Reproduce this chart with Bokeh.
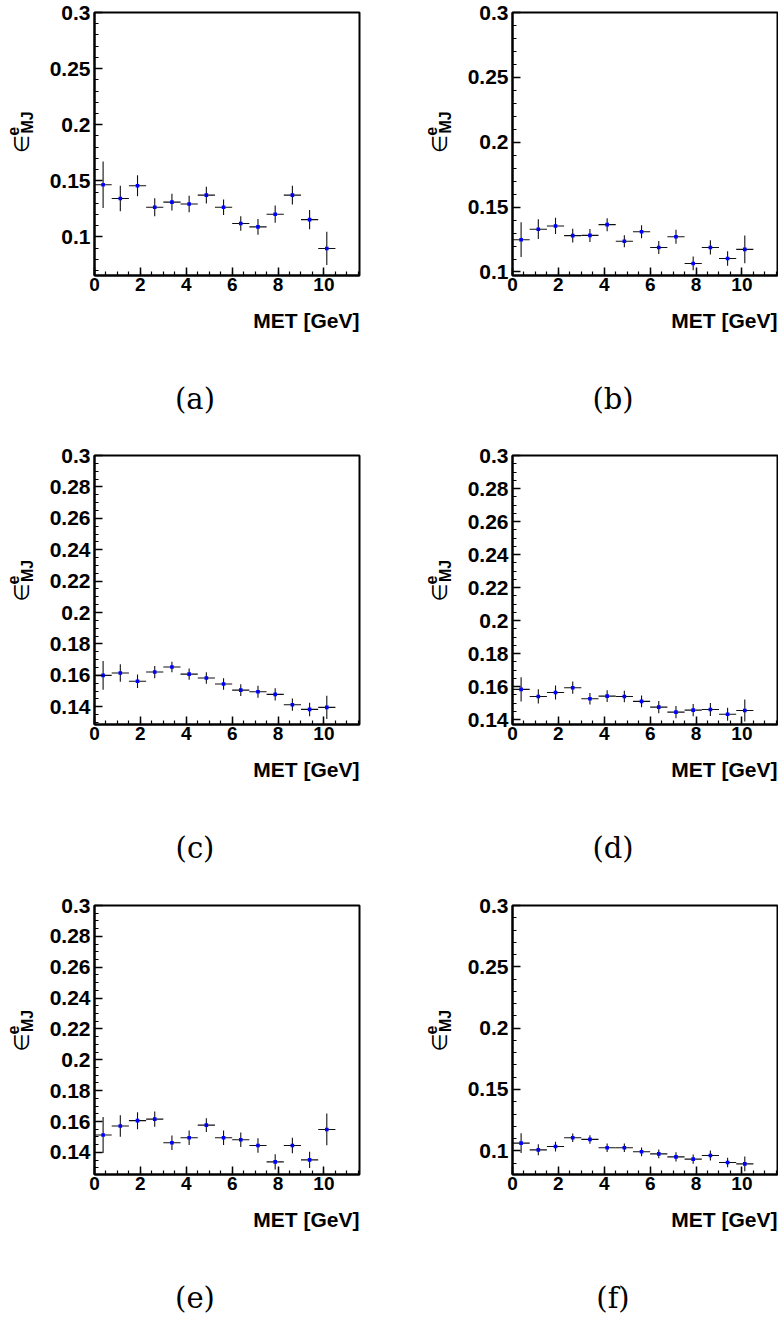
import numpy as np
from bokeh.plotting import figure
from bokeh.models import (Range1d, SingleIntervalTicker, CustomJSTickFormatter,
                          Label, ColumnDataSource)
from bokeh.layouts import column, row
from bokeh.embed import file_html
from bokeh.resources import INLINE

# ---------------- data ----------------
bin_width = 0.75
met_centers = [0.375, 1.125, 1.875, 2.625, 3.375, 4.125, 4.875,
               5.625, 6.375, 7.125, 7.875, 8.625, 9.375, 10.125]
x_range_max = 11.55

eff_a = [0.1465, 0.1343, 0.1456, 0.1265, 0.1311, 0.1294, 0.1373,
         0.1265, 0.1120, 0.1090, 0.1203, 0.1373, 0.1155, 0.0898]
err_a = [0.0207, 0.0113, 0.0093, 0.0080, 0.0074, 0.0074, 0.0074,
         0.0068, 0.0065, 0.0070, 0.0077, 0.0083, 0.0086, 0.0148]

eff_b = [0.1249, 0.1330, 0.1355, 0.1280, 0.1282, 0.1365, 0.1237,
         0.1310, 0.1189, 0.1272, 0.1066, 0.1189, 0.1104, 0.1174]
err_b = [0.0134, 0.0076, 0.0063, 0.0053, 0.0050, 0.0050, 0.0046,
         0.0050, 0.0050, 0.0054, 0.0053, 0.0055, 0.0056, 0.0107]

eff_c = [0.1600, 0.1615, 0.1562, 0.1621, 0.1653, 0.1608, 0.1583,
         0.1545, 0.1506, 0.1496, 0.1479, 0.1413, 0.1383, 0.1396]
err_c = [0.0091, 0.0055, 0.0043, 0.0039, 0.0033, 0.0036, 0.0036,
         0.0037, 0.0038, 0.0038, 0.0039, 0.0039, 0.0043, 0.0074]

eff_d = [0.1583, 0.1540, 0.1564, 0.1593, 0.1526, 0.1542, 0.1540,
         0.1510, 0.1475, 0.1445, 0.1457, 0.1461, 0.1432, 0.1455]
err_d = [0.0073, 0.0043, 0.0042, 0.0037, 0.0035, 0.0035, 0.0035,
         0.0036, 0.0037, 0.0037, 0.0037, 0.0039, 0.0040, 0.0067]

eff_e = [0.1513, 0.1571, 0.1606, 0.1616, 0.1463, 0.1495, 0.1577,
         0.1495, 0.1482, 0.1445, 0.1339, 0.1445, 0.1352, 0.1549]
err_e = [0.0117, 0.0070, 0.0055, 0.0050, 0.0047, 0.0047, 0.0045,
         0.0047, 0.0047, 0.0047, 0.0049, 0.0050, 0.0053, 0.0103]

eff_f = [0.1063, 0.1008, 0.1035, 0.1106, 0.1093, 0.1025, 0.1025,
         0.0992, 0.0975, 0.0951, 0.0932, 0.0962, 0.0905, 0.0894]
err_f = [0.0080, 0.0045, 0.0040, 0.0035, 0.0035, 0.0035, 0.0035,
         0.0036, 0.0036, 0.0037, 0.0038, 0.0040, 0.0039, 0.0060]

y_lows = [0.0657, 0.0973, 0.1287, 0.1370, 0.1257, 0.0807]
y_high = 0.3
y_tick_steps = [0.05, 0.05, 0.02, 0.02, 0.02, 0.05]
y_minor_counts = [5, 5, 4, 4, 4, 5]
captions = ["(a)", "(b)", "(c)", "(d)", "(e)", "(f)"]
x_title = "MET [GeV]"
y_symbol = "\u2208"
y_sup = "e"
y_sub = "MJ"

# ---------------- layout constants (pixels) ----------------
FW = 265
ROW_FH = [263, 269, 269]
PLOT_LEFT = 54          # border left of frame inside plot figure
PLOT_TOP = 12
PLOT_BOTTOM = 30
YL_W = [40, 69]         # width of y-title strip per column
PLOT_RIGHT = [30, 1]
TEXT_H = [138, 139, 113]
FRAME_MID_REF = 134.5   # y-title centre measured from frame top

SANS = "Liberation Sans"


def bare_fig(w, h):
    f = figure(width=w, height=h, x_range=Range1d(0, w), y_range=Range1d(h, 0),
               x_axis_type=None, y_axis_type=None, min_border=0,
               min_border_left=0, min_border_right=0, min_border_top=0,
               min_border_bottom=0, output_backend="svg", toolbar_location=None)
    f.grid.visible = False
    f.outline_line_color = None
    f.background_fill_color = "white"
    f.border_fill_color = "white"
    return f


def make_plot(i, vals, errs):
    r, c = divmod(i, 2)
    FH = ROW_FH[r]
    ylo, yhi = y_lows[i], y_high + 1e-9
    p = figure(frame_width=FW, frame_height=FH,
               min_border_left=PLOT_LEFT, min_border_right=PLOT_RIGHT[c],
               min_border_top=PLOT_TOP, min_border_bottom=PLOT_BOTTOM,
               x_range=Range1d(0.0, x_range_max), y_range=Range1d(ylo, yhi),
               output_backend="svg", toolbar_location=None)
    p.grid.visible = False
    p.outline_line_color = "black"
    p.outline_line_width = 2
    p.background_fill_color = "white"
    p.border_fill_color = "white"

    for ax in (p.xaxis[0], p.yaxis[0]):
        ax.axis_line_width = 2
        ax.axis_line_color = "black"
        ax.major_tick_in = 8
        ax.major_tick_out = 0
        ax.minor_tick_in = 4
        ax.minor_tick_out = 0
        ax.major_tick_line_width = 1.5
        ax.minor_tick_line_width = 1.2
        ax.major_label_text_font = SANS
        ax.major_label_text_font_style = "bold"
        ax.major_label_text_color = "black"
        ax.formatter = CustomJSTickFormatter(
            code="return parseFloat(tick.toFixed(4)).toString();")

    p.xaxis[0].ticker = SingleIntervalTicker(interval=2, num_minor_ticks=4)
    p.xaxis[0].major_label_text_font_size = "19px"
    p.xaxis[0].major_label_standoff = 2
    p.yaxis[0].ticker = SingleIntervalTicker(interval=y_tick_steps[i],
                                             num_minor_ticks=y_minor_counts[i])
    p.yaxis[0].major_label_text_font_size = "21px"
    p.yaxis[0].major_label_standoff = 4

    xc = np.array(met_centers)
    v = np.array(vals)
    e = np.array(errs)
    hw = bin_width / 2.0
    src = ColumnDataSource(dict(x=xc, y=v, xl=xc - hw, xr=xc + hw,
                                yl=v - e, yh=v + e))
    p.segment(x0="xl", y0="y", x1="xr", y1="y", source=src,
              line_color="#111111", line_width=1.1)
    p.segment(x0="x", y0="yl", x1="x", y1="yh", source=src,
              line_color="#111111", line_width=1.1)
    p.scatter(x="x", y="y", source=src, marker="square", size=3.6,
              fill_color="#0000ff", line_color=None)
    return p


def make_cell(i, vals, errs):
    r, c = divmod(i, 2)
    FH = ROW_FH[r]
    plot = make_plot(i, vals, errs)
    plot_h = PLOT_TOP + FH + PLOT_BOTTOM
    ylw = YL_W[c]

    # y title strip (rotated epsilon with super/subscript)
    yl = bare_fig(ylw, plot_h)
    yc = PLOT_TOP + FH - (269 - FRAME_MID_REF)
    yl.add_layout(Label(x=ylw - 19, y=yc + 12, text=y_symbol,
                        angle=90, angle_units="deg", text_align="center",
                        text_baseline="middle", text_font="DejaVu Sans",
                        text_font_size="21px", text_color="black"))
    yl.add_layout(Label(x=ylw - 28, y=yc - 2.6, text=y_sup,
                        angle=90, angle_units="deg", text_align="center",
                        text_baseline="middle", text_font=SANS,
                        text_font_style="bold", text_font_size="16px",
                        text_color="black"))
    yl.add_layout(Label(x=ylw - 13, y=yc - 13, text=y_sub,
                        angle=90, angle_units="deg", text_align="center",
                        text_baseline="middle", text_font=SANS,
                        text_font_style="bold", text_font_size="16px",
                        text_color="black"))

    # text strip below: x title and caption
    cell_w = ylw + PLOT_LEFT + FW + PLOT_RIGHT[c]
    th = TEXT_H[r]
    tf = bare_fig(cell_w, th)
    frame_left = ylw + PLOT_LEFT
    tf.add_layout(Label(x=frame_left + FW, y=45 - PLOT_BOTTOM, text=x_title,
                        text_align="right", text_baseline="middle",
                        text_font=SANS, text_font_style="bold",
                        text_font_size="21px", text_color="black"))
    tf.add_layout(Label(x=frame_left + 100.5, y=123 - PLOT_BOTTOM,
                        text=captions[i], text_align="center",
                        text_baseline="middle", text_font="DejaVu Serif",
                        text_font_size="29px", text_color="black"))
    return column(row(yl, plot), tf)


series = [(eff_a, err_a), (eff_b, err_b), (eff_c, err_c),
          (eff_d, err_d), (eff_e, err_e), (eff_f, err_f)]
cells = [make_cell(i, v, e) for i, (v, e) in enumerate(series)]

layout = column(row(cells[0], cells[1]),
                row(cells[2], cells[3]),
                row(cells[4], cells[5]))

open("out.html", "w").write(file_html(layout, INLINE))
